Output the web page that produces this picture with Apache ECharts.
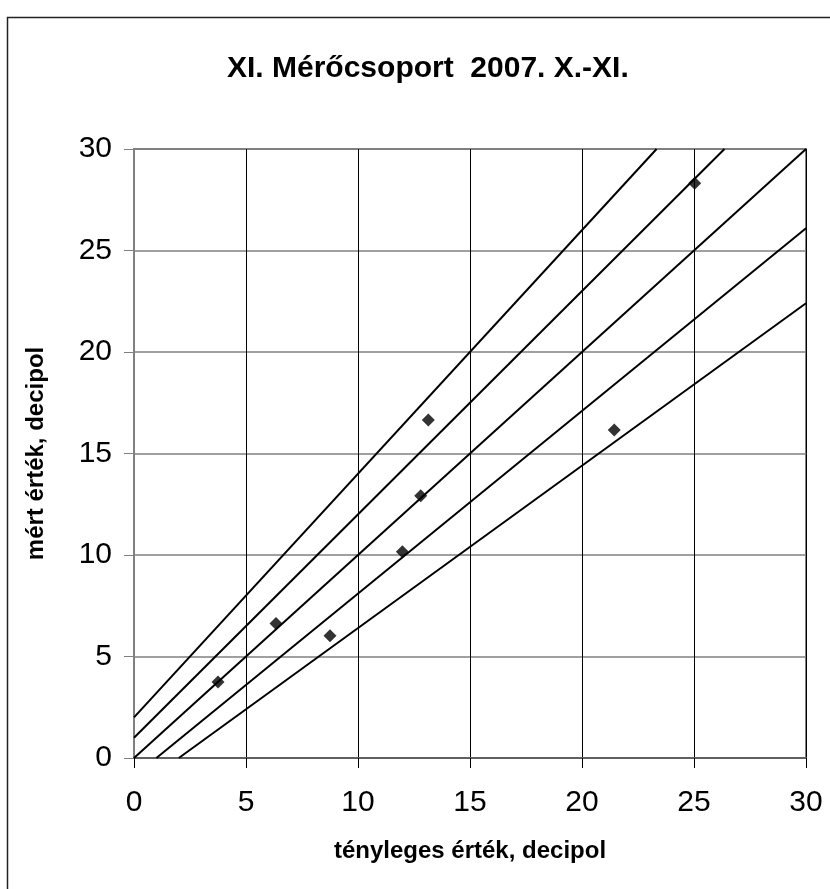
<!DOCTYPE html>
<html>
<head>
<meta charset="utf-8">
<script src="https://cdn.jsdelivr.net/npm/echarts@6/dist/echarts.min.js"></script>
<style>
html,body{margin:0;padding:0;background:#fff;}
#chart{width:830px;height:889px;}
</style>
</head>
<body>
<div id="chart"></div>
<script>
var titleText = 'XI. Mérőcsoport  2007. X.-XI.';
var xName = 'tényleges érték, decipol';
var yName = 'mért érték, decipol';
var xTicks = [0, 5, 10, 15, 20, 25, 30];
var yTicks = [0, 5, 10, 15, 20, 25, 30];

// measured points (tényleges, mért)
var points = [
  [3.75, 3.75],
  [6.34, 6.63],
  [8.75, 6.02],
  [11.98, 10.16],
  [12.80, 12.92],
  [13.14, 16.65],
  [21.44, 16.16],
  [25.03, 28.31]
];

// reference lines (end points)
var lineA = [[0, 2], [23.33, 30]];
var lineB = [[0, 1], [26.36, 30]];
var lineC = [[0, 0], [30, 30]];
var lineD = [[1, 0], [30, 26.1]];
var lineE = [[2, 0], [30, 22.4]];

var chart = echarts.init(document.getElementById('chart'), null, {renderer: 'canvas'});

function refLine(d) {
  return {
    type: 'line', data: d, symbol: 'none', silent: true,
    lineStyle: {color: '#000', width: 2}, z: 3, animation: false
  };
}

var FONT = '"Liberation Sans", Arial, sans-serif';

chart.setOption({
  animation: false,
  backgroundColor: '#fff',
  title: {
    text: titleText,
    left: 222, top: 49,
    textStyle: {fontFamily: FONT, fontSize: 30, fontWeight: 'bold', color: '#000'}
  },
  graphic: [{
    type: 'rect', left: 5, top: 15,
    shape: {width: 860, height: 900},
    style: {fill: 'none', stroke: '#222', lineWidth: 1.5},
    silent: true
  }],
  grid: {left: 134, top: 149, right: 24, bottom: 131, show: true, borderColor: '#808080', borderWidth: 2},
  xAxis: {
    type: 'value', min: xTicks[0], max: xTicks[xTicks.length - 1], interval: 5,
    name: xName, nameLocation: 'middle', nameGap: 81,
    nameTextStyle: {fontFamily: FONT, fontSize: 24, fontWeight: 'bold', color: '#000'},
    axisLine: {show: true, onZero: false, lineStyle: {color: '#606060', width: 2}},
    axisTick: {show: true, length: 10, lineStyle: {color: '#000', width: 1}},
    axisLabel: {fontFamily: FONT, fontSize: 30, color: '#000', margin: 30},
    splitLine: {show: true, lineStyle: {color: '#000', width: 1}}
  },
  yAxis: {
    type: 'value', min: yTicks[0], max: yTicks[yTicks.length - 1], interval: 5,
    name: yName, nameLocation: 'middle', nameGap: 86,
    nameTextStyle: {fontFamily: FONT, fontSize: 24, fontWeight: 'bold', color: '#000'},
    axisLine: {show: true, onZero: false, lineStyle: {color: '#808080', width: 2}},
    axisTick: {show: true, length: 10, lineStyle: {color: '#808080', width: 1}},
    axisLabel: {fontFamily: FONT, fontSize: 30, color: '#000', margin: 22},
    splitLine: {show: true, lineStyle: {color: '#808080', width: 1.5}}
  },
  series: [
    refLine(lineA), refLine(lineB), refLine(lineC), refLine(lineD), refLine(lineE),
    {
      type: 'scatter', data: points, symbol: 'diamond', symbolSize: 13,
      itemStyle: {color: '#000'}, z: 5
    }
  ]
});
</script>
</body>
</html>
